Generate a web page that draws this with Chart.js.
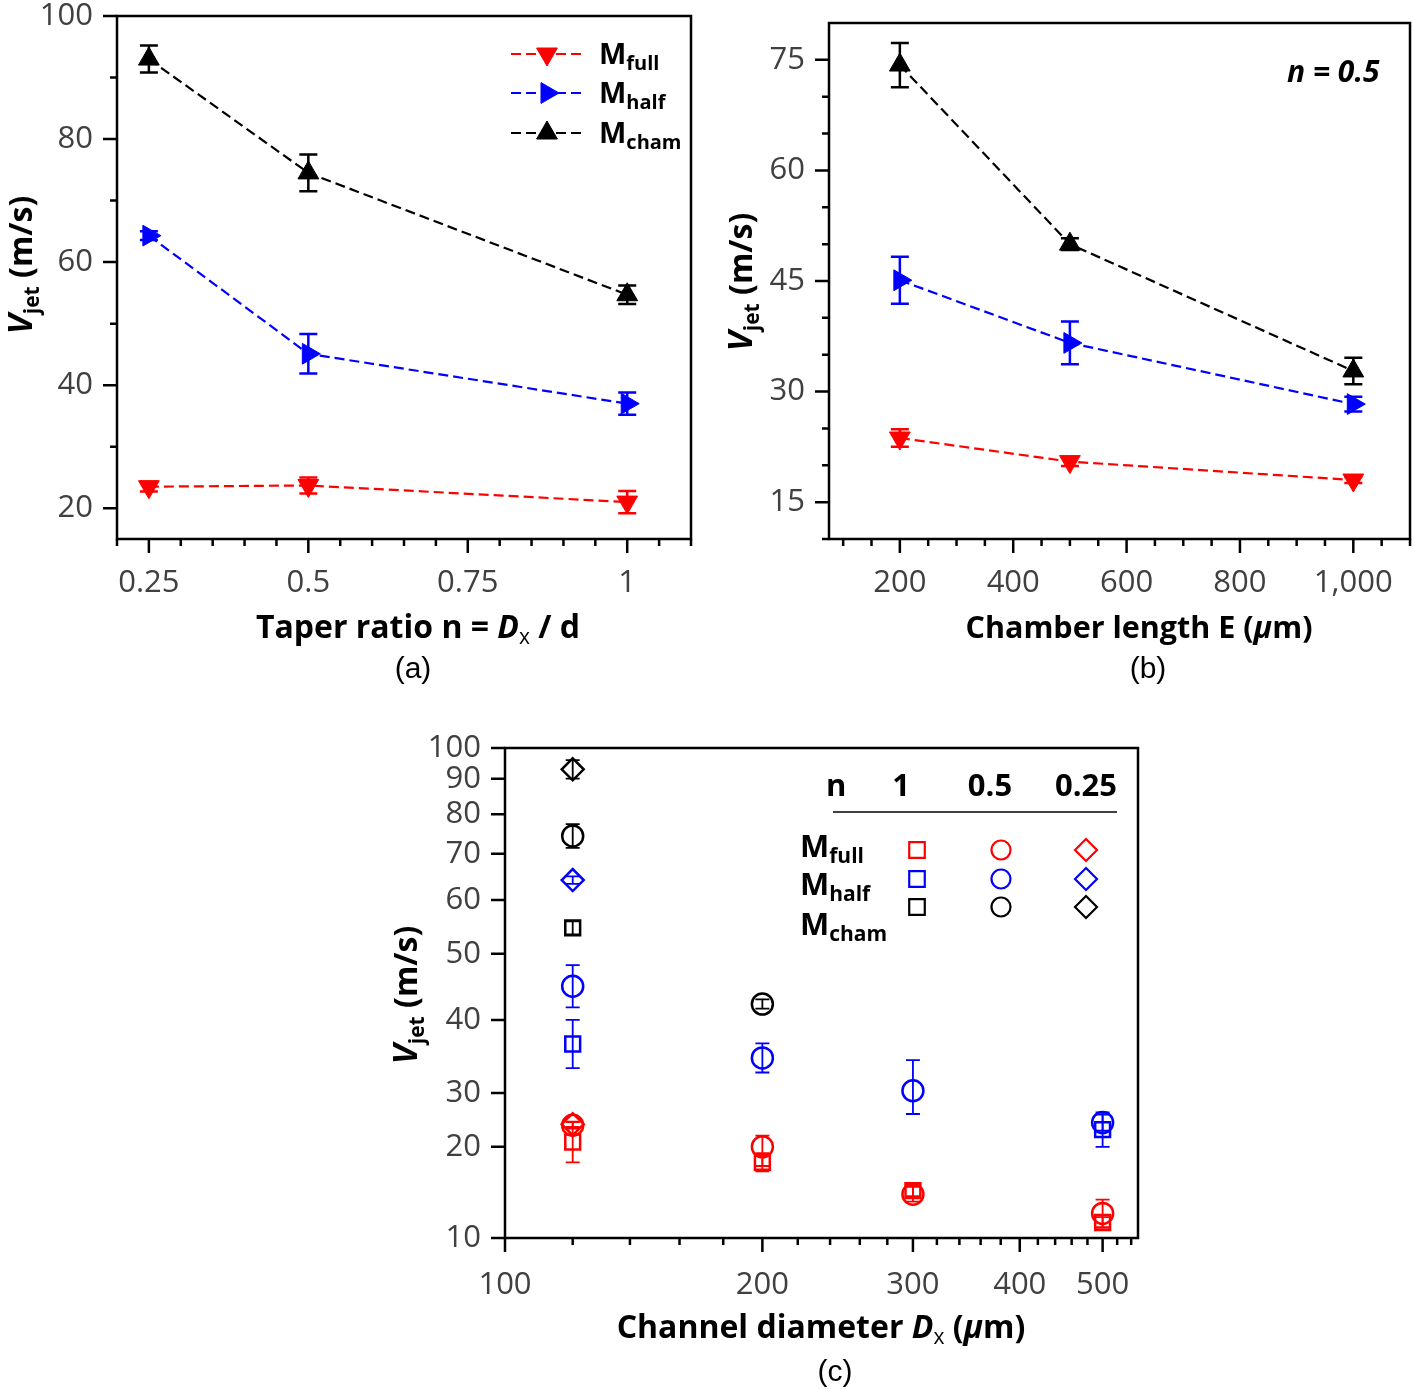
<!DOCTYPE html>
<html>
<head>
<meta charset="utf-8">
<script src="https://cdn.jsdelivr.net/npm/chart.js@4.4.0/dist/chart.umd.min.js"></script>
<style>
  body { margin: 0; background: #fff; width: 1414px; height: 1389px; position: relative; overflow: hidden; }
  canvas { position: absolute; }
</style>
</head>
<body>
<canvas id="chart-a" width="700" height="700" style="left:0;top:0"></canvas>
<canvas id="chart-b" width="707" height="700" style="left:707px;top:0"></canvas>
<canvas id="chart-c" width="780" height="669" style="left:380px;top:720px"></canvas>
<script>
// (a) jet velocity vs taper ratio
const taperRatios = [0.25, 0.5, 1];
const fullByTaper = [23.5, 23.7, 21.0];
const fullByTaperErr = [0.8, 1.3, 1.8];
const halfByTaper = [64.3, 45.1, 37.0];
const halfByTaperErr = [0.7, 3.2, 1.8];
const chamByTaper = [93.0, 74.5, 54.7];
const chamByTaperErr = [2.2, 3.0, 1.5];
const taperTicks = [0.25, 0.5, 0.75, 1];
const taperMinor = [0.2, 0.3, 0.35, 0.4, 0.45, 0.55, 0.6, 0.65, 0.7, 0.8, 0.85, 0.9, 0.95, 1.05, 1.1];
const speedTicksA = [20, 40, 60, 80, 100];
const speedMinorA = [30, 50, 70, 90];

// (b) jet velocity vs chamber length, n = 0.5
const chamberLengths = [200, 500, 1000];
const fullByLength = [23.7, 20.5, 18.0];
const fullByLengthErr = [1.2, 0.6, 0.4];
const halfByLength = [45.1, 36.6, 28.3];
const halfByLengthErr = [3.2, 2.9, 1.0];
const chamByLength = [74.3, 50.0, 32.8];
const chamByLengthErr = [3.0, 0.8, 1.8];
const lengthTicks = [200, 400, 600, 800, 1000];
const lengthMinor = [100, 150, 250, 300, 350, 450, 500, 550, 650, 700, 750, 850, 900, 950, 1050, 1100];
const speedTicksB = [15, 30, 45, 60, 75];
const speedMinorB = [10, 20, 25, 35, 40, 50, 55, 65, 70];

// (c) jet velocity vs channel diameter, per model and n
const channelDiameters = [120, 200, 300, 500];
const fullN1 = [20.9, 18.3, 15.2, 11.7];
const fullN1Err = [2.6, 1.0, 0.6, 0.6];
const fullN05 = [24.0, 20.0, 14.8, 12.7];
const fullN05Err = [0.6, 2.1, 0.8, 1.5];
const fullN025 = [24.2, null, null, null];
const fullN025Err = [0.5, 0, 0, 0];
const halfN1 = [36.7, null, null, 23.2];
const halfN1Err = [3.3, 0, 0, 3.2];
const halfN05 = [45.1, 34.8, 30.3, 24.5];
const halfN05Err = [3.2, 2.0, 4.2, 1.5];
const halfN025 = [64.3, null, null, null];
const halfN025Err = [0.8, 0, 0, 0];
const chamN1 = [54.8, null, null, null];
const chamN1Err = [1.2, 0, 0, 0];
const chamN05 = [74.5, 42.4, null, null];
const chamN05Err = [3.0, 0.7, 0, 0];
const chamN025 = [93.1, null, null, null];
const chamN025Err = [3.0, 0, 0, 0];
const diameterTicks = [100, 200, 300, 400, 500];
const diameterMinor = [120, 140, 160, 180, 220, 240, 260, 280, 320, 340, 360, 380, 420, 440, 460, 480, 520, 540];
const speedTicksC = [10, 20, 30, 40, 50, 60, 70, 80, 90, 100];
// where each speed tick sits along the (non-uniform) axis of panel (c), 0 = bottom, 1 = top
const speedTickFracC = [0, 0.186, 0.296, 0.445, 0.58, 0.69, 0.784, 0.865, 0.937, 1];

const RED = '#ff0000', BLUE = '#0000ff', BLACK = '#000000';
const TICK_FONT = { family: 'Open Sans', size: 31, weight: 400 };
const TICK_COLOR = '#404040';
const BOLD = "bold 32px 'Open Sans'";
const ITAL = "italic bold 32px 'Open Sans'";
const SUB = "bold 21px 'Open Sans'";

// piecewise axis used by panel (c)
class WarpScale extends Chart.LinearScale {
  valueToFrac(v) {
    let i = 1;
    while (i < speedTicksC.length - 1 && v > speedTicksC[i]) i++;
    const v0 = speedTicksC[i - 1], v1 = speedTicksC[i];
    const f0 = speedTickFracC[i - 1], f1 = speedTickFracC[i];
    return f0 + (v - v0) / (v1 - v0) * (f1 - f0);
  }
  getPixelForValue(value) {
    return this.getPixelForDecimal(this.valueToFrac(value));
  }
  getValueForPixel(pixel) {
    const f = this.getDecimalForPixel(pixel);
    let i = 1;
    while (i < speedTickFracC.length - 1 && f > speedTickFracC[i]) i++;
    const f0 = speedTickFracC[i - 1], f1 = speedTickFracC[i];
    return speedTicksC[i - 1] + (f - f0) / (f1 - f0) * (speedTicksC[i] - speedTicksC[i - 1]);
  }
}
WarpScale.id = 'warp';
WarpScale.defaults = Chart.LinearScale.defaults;
Chart.register(WarpScale);

const pts = (xs, ys) => xs.map((x, i) => ({ x, y: ys[i] }));

function richText(ctx, parts, x, y, rotate) {
  ctx.save();
  ctx.translate(x, y);
  if (rotate) ctx.rotate(-Math.PI / 2);
  let w = 0;
  parts.forEach(p => { ctx.font = p[1]; w += ctx.measureText(p[0]).width; });
  let cx = -w / 2;
  ctx.textAlign = 'left';
  ctx.textBaseline = 'alphabetic';
  ctx.fillStyle = '#000';
  parts.forEach(p => {
    ctx.font = p[1];
    ctx.fillText(p[0], cx, p[2] || 0);
    cx += ctx.measureText(p[0]).width;
  });
  ctx.restore();
}

function leftText(ctx, parts, x, y) {
  ctx.save();
  ctx.textAlign = 'left';
  ctx.textBaseline = 'alphabetic';
  ctx.fillStyle = '#000';
  let cx = x;
  parts.forEach(p => {
    ctx.font = p[1];
    ctx.fillText(p[0], cx, y + (p[2] || 0));
    cx += ctx.measureText(p[0]).width;
  });
  ctx.restore();
}

function marker(ctx, style, color, x, y, radius, rotation, filled, lw) {
  ctx.save();
  ctx.setLineDash([]);
  ctx.fillStyle = filled ? color : 'rgba(0,0,0,0)';
  ctx.strokeStyle = color;
  ctx.lineWidth = lw;
  Chart.helpers.drawPoint(ctx, { pointStyle: style, rotation, radius, borderWidth: lw }, x, y);
  ctx.restore();
}

// box, tick marks, error bars and extra text for one panel
function panelPlugin(cfg) {
  return {
    id: 'panel',
    beforeDatasetsDraw(chart) {
      const { ctx, scales: { x, y } } = chart;
      ctx.save();
      ctx.lineWidth = cfg.errWidth;
      chart.data.datasets.forEach(ds => {
        if (!ds.errors) return;
        ctx.strokeStyle = ds.borderColor;
        ds.data.forEach((p, i) => {
          if (p.y == null || !ds.errors[i]) return;
          const px = x.getPixelForValue(p.x);
          const top = y.getPixelForValue(p.y + ds.errors[i]);
          const bot = y.getPixelForValue(p.y - ds.errors[i]);
          ctx.beginPath();
          ctx.moveTo(px, top); ctx.lineTo(px, bot);
          ctx.moveTo(px - cfg.cap, top); ctx.lineTo(px + cfg.cap, top);
          ctx.moveTo(px - cfg.cap, bot); ctx.lineTo(px + cfg.cap, bot);
          ctx.stroke();
        });
      });
      ctx.restore();
    },
    afterDraw(chart) {
      const { ctx, chartArea: a, scales: { x, y } } = chart;
      ctx.save();
      ctx.strokeStyle = '#000';
      ctx.lineWidth = 2.5;
      ctx.strokeRect(a.left, a.top, a.right - a.left, a.bottom - a.top);
      ctx.beginPath();
      const xt = (vals, len) => vals.forEach(v => {
        const p = x.getPixelForValue(v);
        ctx.moveTo(p, a.bottom); ctx.lineTo(p, a.bottom + len);
      });
      const yt = (vals, len) => vals.forEach(v => {
        const p = y.getPixelForValue(v);
        ctx.moveTo(a.left, p); ctx.lineTo(a.left - len, p);
      });
      xt(cfg.xMajor, 14); xt(cfg.xMinor, 7);
      yt(cfg.yMajor, 14); yt(cfg.yMinor, 7);
      ctx.stroke();
      ctx.restore();
      cfg.extra(ctx, chart);
    }
  };
}

function fixedAxes(yWidth, xHeight) {
  return {
    y: s => { s.width = yWidth; s.paddingTop = 0; s.paddingBottom = 0; },
    x: s => { s.height = xHeight; s.paddingLeft = 0; s.paddingRight = 0; }
  };
}

function lineSet(label, xs, ys, errs, color, rotation) {
  return {
    label, data: pts(xs, ys), errors: errs,
    showLine: true, borderColor: color, backgroundColor: color,
    borderWidth: 2.2, borderDash: [10, 5],
    pointStyle: 'triangle', rotation, pointRadius: 12, pointBorderWidth: 1
  };
}

function axisCommon(min, max, ticks, padding, afterFit, fmt) {
  return {
    type: 'linear', min, max,
    grid: { display: false, drawTicks: false },
    border: { display: false },
    afterBuildTicks: s => { s.ticks = ticks.map(v => ({ value: v })); },
    afterFit,
    ticks: { font: TICK_FONT, color: TICK_COLOR, padding, maxRotation: 0, autoSkip: false,
             callback: v => fmt ? fmt(v) : String(v) }
  };
}

const baseOptions = {
  responsive: false, animation: false,
  plugins: { legend: { display: false }, tooltip: { enabled: false } }
};

const vTitle = [['V', "italic bold 34px 'Open Sans'"], ['jet', SUB, 7], [' (m/s)', BOLD]];

// ---------- (a)
const fa = fixedAxes(117, 161);
new Chart(document.getElementById('chart-a'), {
  type: 'scatter',
  data: { datasets: [
    lineSet('Mfull', taperRatios, fullByTaper, fullByTaperErr, RED, 180),
    lineSet('Mhalf', taperRatios, halfByTaper, halfByTaperErr, BLUE, 90),
    lineSet('Mcham', taperRatios, chamByTaper, chamByTaperErr, BLACK, 0)
  ] },
  options: Object.assign({}, baseOptions, {
    layout: { autoPadding: false, padding: { left: 0, top: 16, right: 9, bottom: 0 } },
    scales: {
      x: axisCommon(0.2, 1.1, taperTicks, 26, fa.x),
      y: axisCommon(15, 100, speedTicksA, 24, fa.y)
    }
  }),
  plugins: [panelPlugin({
    errWidth: 2.5, cap: 9, xMajor: taperTicks, xMinor: taperMinor, yMajor: speedTicksA, yMinor: speedMinorA,
    extra(ctx) {
      const rows = [['full', RED, 180, 54], ['half', BLUE, 90, 93], ['cham', BLACK, 0, 133]];
      rows.forEach(([sub, color, rot, yy]) => {
        ctx.save();
        ctx.strokeStyle = color; ctx.lineWidth = 2.2; ctx.setLineDash([10, 5]);
        ctx.beginPath(); ctx.moveTo(511, yy); ctx.lineTo(582, yy); ctx.stroke();
        ctx.restore();
        marker(ctx, 'triangle', color, 547, yy, 12, rot, true, 1);
        leftText(ctx, [['M', "bold 29px 'Open Sans'"], [sub, "bold 20px 'Open Sans'", 6]], 599, yy + 10);
      });
      richText(ctx, [['Taper ratio n = ', BOLD], ['D', ITAL], ['x', "21px 'Open Sans'", 6], [' / d', BOLD]], 418, 638);
      richText(ctx, [['(a)', "30px 'Liberation Sans'"]], 413, 678);
      richText(ctx, vTitle, 32, 265, true);
    }
  })]
});

// ---------- (b)
const fb = fixedAxes(122, 161);
new Chart(document.getElementById('chart-b'), {
  type: 'scatter',
  data: { datasets: [
    lineSet('Mfull', chamberLengths, fullByLength, fullByLengthErr, RED, 180),
    lineSet('Mhalf', chamberLengths, halfByLength, halfByLengthErr, BLUE, 90),
    lineSet('Mcham', chamberLengths, chamByLength, chamByLengthErr, BLACK, 0)
  ] },
  options: Object.assign({}, baseOptions, {
    layout: { autoPadding: false, padding: { left: 0, top: 23, right: 4, bottom: 0 } },
    scales: {
      x: axisCommon(75, 1100, lengthTicks, 26, fb.x, v => v.toLocaleString('en-US')),
      y: axisCommon(10, 80, speedTicksB, 24, fb.y)
    }
  }),
  plugins: [panelPlugin({
    errWidth: 2.5, cap: 9, xMajor: lengthTicks, xMinor: lengthMinor, yMajor: speedTicksB, yMinor: speedMinorB,
    extra(ctx) {
      leftText(ctx, [['n = 0.5', "italic bold 30px 'Open Sans'"]], 580, 82);
      const b = "bold 30.5px 'Open Sans'";
      richText(ctx, [['Chamber length E (', b], ['\u03bc', "italic bold 30.5px 'Open Sans'"], ['m)', b]], 432, 638);
      richText(ctx, [['(b)', "30px 'Liberation Sans'"]], 441, 678);
      richText(ctx, vTitle, 45, 282, true);
    }
  })]
});

// ---------- (c)
function scatterSet(label, ys, errs, color, style, radius) {
  return {
    label, data: pts(channelDiameters, ys), errors: errs,
    showLine: false, borderColor: color, backgroundColor: 'rgba(0,0,0,0)',
    pointStyle: style, pointRadius: radius, pointBorderWidth: 2.5
  };
}
const fc = fixedAxes(125, 151);
const xC = axisCommon(100, 550, diameterTicks, 29, fc.x);
xC.type = 'logarithmic';
const yC = axisCommon(10, 100, speedTicksC, 24, fc.y);
yC.type = 'warp';
new Chart(document.getElementById('chart-c'), {
  type: 'scatter',
  data: { datasets: [
    scatterSet('Mfull n=1', fullN1, fullN1Err, RED, 'rect', 10.5),
    scatterSet('Mfull n=0.5', fullN05, fullN05Err, RED, 'circle', 10.5),
    scatterSet('Mfull n=0.25', fullN025, fullN025Err, RED, 'rectRot', 11),
    scatterSet('Mhalf n=1', halfN1, halfN1Err, BLUE, 'rect', 10.5),
    scatterSet('Mhalf n=0.5', halfN05, halfN05Err, BLUE, 'circle', 10.5),
    scatterSet('Mhalf n=0.25', halfN025, halfN025Err, BLUE, 'rectRot', 11),
    scatterSet('Mcham n=1', chamN1, chamN1Err, BLACK, 'rect', 10.5),
    scatterSet('Mcham n=0.5', chamN05, chamN05Err, BLACK, 'circle', 10.5),
    scatterSet('Mcham n=0.25', chamN025, chamN025Err, BLACK, 'rectRot', 11)
  ] },
  options: Object.assign({}, baseOptions, {
    layout: { autoPadding: false, padding: { left: 0, top: 28, right: 22, bottom: 0 } },
    scales: { x: xC, y: yC }
  }),
  plugins: [panelPlugin({
    errWidth: 1.8, cap: 7, xMajor: diameterTicks, xMinor: diameterMinor, yMajor: speedTicksC, yMinor: [],
    extra(ctx) {
      // n / model legend table
      const head = "bold 31px 'Open Sans'";
      leftText(ctx, [['n', head]], 446, 76);
      richText(ctx, [['1', head]], 521, 76);
      richText(ctx, [['0.5', head]], 610, 76);
      richText(ctx, [['0.25', head]], 706, 76);
      ctx.save();
      ctx.strokeStyle = '#000'; ctx.lineWidth = 1.5;
      ctx.beginPath(); ctx.moveTo(453, 92); ctx.lineTo(737, 92); ctx.stroke();
      ctx.restore();
      const models = [['full', RED, 130, 137], ['half', BLUE, 159, 175], ['cham', BLACK, 187, 215]];
      models.forEach(([sub, color, my, ty]) => {
        leftText(ctx, [['M', head], [sub, SUB, 6]], 420, ty);
        marker(ctx, 'rect', color, 537, my, 11, 0, false, 2.2);
        marker(ctx, 'circle', color, 621, my, 9.5, 0, false, 2.2);
        marker(ctx, 'rectRot', color, 706, my, 11, 0, false, 2.2);
      });
      richText(ctx, [['Channel diameter ', BOLD], ['D', ITAL], ['x', "21px 'Open Sans'", 6], [' (', BOLD], ['\u03bc', ITAL], ['m)', BOLD]], 441, 618);
      richText(ctx, [['(c)', "30px 'Liberation Sans'"]], 455, 661);
      richText(ctx, vTitle, 37, 275, true);
    }
  })]
});
</script>
</body>
</html>
